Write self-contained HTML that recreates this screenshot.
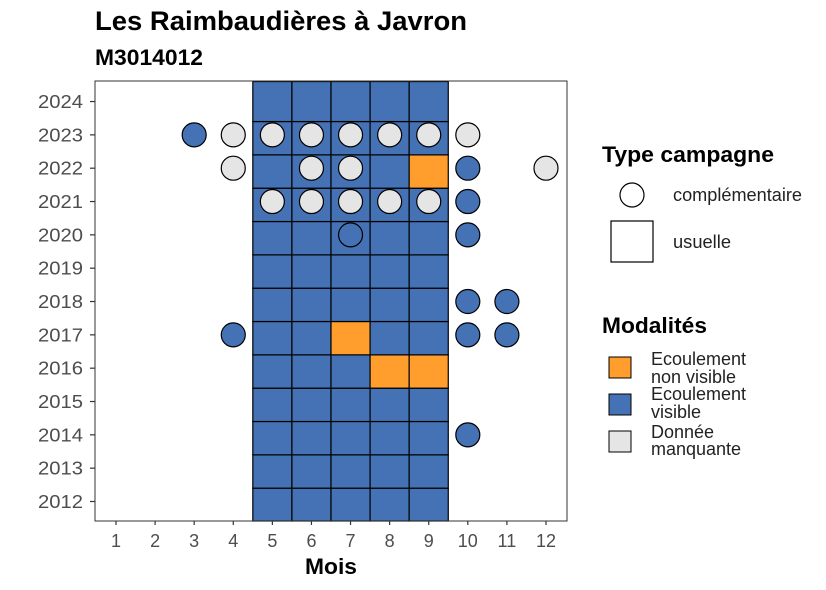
<!DOCTYPE html>
<html><head><meta charset="utf-8"><style>
body{margin:0;background:#fff}
svg{display:block;font-family:"Liberation Sans",sans-serif}
</style></head><body>
<svg id="chart" width="826" height="590" viewBox="0 0 826 590">
<text x="95" y="30" font-size="27" font-weight="bold" fill="#000" textLength="372" lengthAdjust="spacingAndGlyphs">Les Raimbaudières à Javron</text>
<text x="95" y="65" font-size="22" font-weight="bold" fill="#000" textLength="108" lengthAdjust="spacingAndGlyphs">M3014012</text>
<g id="tiles"></g>
<g id="points"></g>
<rect x="95" y="81" width="472" height="440" fill="none" stroke="#333" stroke-width="1"/>
<g id="axes"></g>
<text x="331" y="574" font-size="22" font-weight="bold" text-anchor="middle" textLength="52" lengthAdjust="spacingAndGlyphs">Mois</text>
<g>
<text x="602" y="162" font-size="22" font-weight="bold" textLength="172" lengthAdjust="spacingAndGlyphs">Type campagne</text>
<circle cx="632" cy="195" r="12" fill="#fff" stroke="#000" stroke-width="1.2"/>
<text x="673" y="201" font-size="18" fill="#222" textLength="129" lengthAdjust="spacingAndGlyphs">complémentaire</text>
<rect x="611" y="221" width="42" height="41" fill="#fff" stroke="#000" stroke-width="1.2"/>
<text x="673" y="248" font-size="18" fill="#222" textLength="58" lengthAdjust="spacingAndGlyphs">usuelle</text>
</g>
<g>
<text x="602" y="333" font-size="22" font-weight="bold" textLength="105" lengthAdjust="spacingAndGlyphs">Modalités</text>
<rect x="609" y="357" width="22" height="21" fill="#FF9E2C" stroke="#000"/>
<text font-size="18" fill="#222"><tspan x="651" y="365">Ecoulement</tspan><tspan x="651" y="383">non visible</tspan></text>
<rect x="609" y="394" width="22" height="21" fill="#4472B4" stroke="#000"/>
<text font-size="18" fill="#222"><tspan x="651" y="400">Ecoulement</tspan><tspan x="651" y="418">visible</tspan></text>
<rect x="609" y="431" width="22" height="21" fill="#E5E5E5" stroke="#000"/>
<text font-size="18" fill="#222"><tspan x="651" y="438">Donnée</tspan><tspan x="651" y="455">manquante</tspan></text>
</g>
</svg>
<script>
const months=[1,2,3,4,5,6,7,8,9,10,11,12];
const years=[2012,2013,2014,2015,2016,2017,2018,2019,2020,2021,2022,2023,2024];
const tileMonths=[5,6,7,8,9];
const orangeTiles=[[9,2022],[7,2017],[8,2016],[9,2016]];
const ptMonth=[3,4,5,6,7,8,9,10, 4,6,7,10,12, 5,6,7,8,9,10, 7,10, 10,11, 4,10,11, 10];
const ptYear=[2023,2023,2023,2023,2023,2023,2023,2023, 2022,2022,2022,2022,2022, 2021,2021,2021,2021,2021,2021, 2020,2020, 2018,2018, 2017,2017,2017, 2014];
const ptMod=['v','g','g','g','g','g','g','g', 'g','g','g','v','g', 'g','g','g','g','g','v', 'v','v', 'v','v', 'v','v','v', 'v'];
const colors={v:'#4472B4',o:'#FF9E2C',g:'#E5E5E5'};
const NS='http://www.w3.org/2000/svg';
function X(m){return 116+(m-1)*39.09;}
function Y(y){return 501.5-(y-2012)*33.33;}
function mk(t,a,p){const e=document.createElementNS(NS,t);for(const k in a)e.setAttribute(k,a[k]);p.appendChild(e);return e;}
const maxYear=Math.max(...years);
const tg=document.getElementById('tiles');
years.forEach(y=>tileMonths.forEach(m=>{
 const o=orangeTiles.some(t=>t[0]==m&&t[1]==y);
 const top=Math.max(81,Y(y===maxYear?y+0.6:y+0.4));
 const r=mk('rect',{x:X(m-0.5),y:top,width:X(m+0.5)-X(m-0.5),height:Math.min(521,Y(y-0.6))-top,fill:o?colors.o:colors.v,stroke:'#000','stroke-width':1.2},tg);
 
 
}));
const pg=document.getElementById('points');
ptMonth.forEach((m,i)=>{
 const c=mk('circle',{cx:X(m),cy:Y(ptYear[i]),r:12,fill:colors[ptMod[i]],stroke:'#000','stroke-width':1.2},pg);
 
 
});
const ag=document.getElementById('axes');
months.forEach(m=>{
 const l=mk('line',{x1:X(m),x2:X(m),y1:521,y2:525,stroke:'#333','stroke-width':1.2},ag);
 
 
 const t=mk('text',{x:X(m),y:547,'font-size':18,'text-anchor':'middle',fill:'#4d4d4d'},ag);t.textContent=m;
 
 
});
years.forEach(y=>{
 const l=mk('line',{x1:90,x2:95,y1:Y(y),y2:Y(y),stroke:'#333','stroke-width':1.2},ag);
 
 
 const t=mk('text',{x:83,y:Y(y)+6.5,'font-size':18,'text-anchor':'end',fill:'#4d4d4d',textLength:45,lengthAdjust:'spacingAndGlyphs'},ag);t.textContent=y;
 
 
});
</script>
</body></html>
